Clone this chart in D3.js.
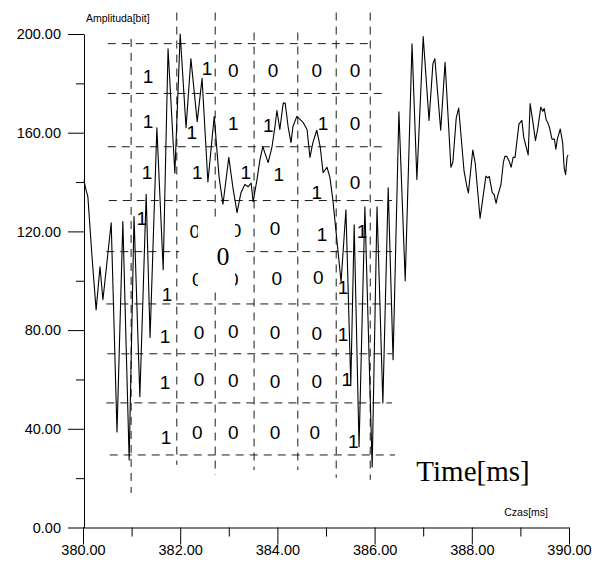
<!DOCTYPE html>
<html>
<head>
<meta charset="utf-8">
<script src="https://cdn.jsdelivr.net/npm/d3@7/dist/d3.min.js"></script>
<style>
  html, body { margin: 0; padding: 0; background: #fff; }
  svg { display: block; font-family: "Liberation Sans", Arial, sans-serif; }
</style>
</head>
<body>
<svg id="chart" width="592" height="570"></svg>
<script>
// Recorded waveform: time [ms] and amplitude [bit]
const timeMs = [
  380.02, 380.06, 380.10, 380.19, 380.27, 380.35, 380.41, 380.58, 380.70, 380.82,
  380.95, 381.05, 381.17, 381.30, 381.38, 381.52, 381.65, 381.75, 381.89, 382.00,
  382.12, 382.22, 382.35, 382.45, 382.57, 382.70, 382.80, 382.88, 383.00, 383.09,
  383.17, 383.25, 383.33, 383.40, 383.46, 383.50, 383.58, 383.64, 383.70, 383.74,
  383.81, 383.89, 383.95, 383.99, 384.05, 384.12, 384.16, 384.22, 384.28, 384.32,
  384.40, 384.47, 384.53, 384.61, 384.67, 384.73, 384.81, 384.88, 384.94, 385.02,
  385.08, 385.14, 385.31, 385.41, 385.51, 385.58, 385.68, 385.80, 385.95, 386.05,
  386.17, 386.28, 386.38, 386.50, 386.63, 386.77, 386.87, 387.00, 387.12, 387.20,
  387.24, 387.36, 387.45, 387.57, 387.61, 387.68, 387.73, 387.84, 387.90, 387.93,
  388.02, 388.07, 388.17, 388.29, 388.33, 388.36, 388.42, 388.46, 388.50, 388.53,
  388.60, 388.65, 388.68, 388.72, 388.77, 388.81, 388.85, 388.89, 388.93, 388.97,
  389.03, 389.07, 389.16, 389.20, 389.25, 389.31, 389.36, 389.42, 389.46, 389.49,
  389.53, 389.57, 389.60, 389.65, 389.70, 389.73, 389.76, 389.82, 389.87, 389.90,
  389.93, 389.96, 389.98
];
const amplitude = [
  140.6, 136.9, 134.1, 108.5, 88.2, 105.7, 92.3, 123.5, 38.7, 124.0,
  27.4, 126.0, 53.0, 135.0, 77.0, 162.0, 104.5, 194.0, 143.6, 200.0,
  162.0, 190.0, 164.5, 182.0, 140.0, 166.6, 142.0, 131.0, 150.0, 137.0,
  127.6, 135.7, 139.0, 138.1, 139.6, 132.0, 141.0, 149.0, 154.4, 151.9,
  147.9, 154.4, 162.5, 169.0, 161.3, 172.0, 172.0, 162.5, 156.0, 162.5,
  166.6, 165.3, 164.1, 161.3, 150.0, 156.0, 161.0, 154.4, 143.8, 146.0,
  142.0, 133.0, 99.6, 128.8, 58.0, 122.7, 32.7, 130.0, 24.5, 130.0,
  50.5, 137.7, 68.0, 168.5, 100.0, 196.0, 141.0, 199.0, 165.0, 188.0,
  190.0, 161.0, 188.5, 146.0, 148.0, 166.0, 170.0, 144.5, 138.0, 135.6,
  153.0, 147.7, 125.3, 142.4, 141.7, 142.3, 135.7, 134.9, 131.4, 134.2,
  139.0, 148.0, 150.4, 150.4, 148.4, 146.0, 150.0, 150.0, 156.8, 163.5,
  165.0, 158.0, 151.0, 171.8, 165.3, 156.8, 162.0, 170.4, 168.7, 169.8,
  165.3, 163.7, 162.0, 157.4, 157.4, 153.3, 157.4, 161.5, 155.9, 145.8,
  143.0, 150.0, 151.0
];

// Axis ticks
const xMajorTicks = [380, 382, 384, 386, 388, 390];
const xMinorTicks = [381, 383, 385, 387, 389];
const yMajorTicks = [0, 40, 80, 120, 160, 200];
const yMinorTicks = [20, 60, 100, 140, 180];

// Bit-cell boundaries (time [ms], amplitude [bit])
const cellColumns = [380.99, 381.93, 382.72, 383.52, 384.42, 385.21, 385.91];
const columnTop    = [198.0, 208.7, 208.7, 200.6, 200.6, 208.7, 208.7];
const columnBottom = [14.0, 25.4, 21.3, 23.3, 23.3, 20.1, 19.3];
const cellRows   = [196.1, 175.9, 154.3, 132.5, 111.8, 90.6, 70.4, 50.5, 29.4];
const rowStart   = [380.51, 380.51, 380.51, 380.53, 380.48, 380.48, 380.50, 380.48, 380.55];
const rowEnd     = [385.97, 386.17, 386.17, 386.36, 386.36, 386.36, 386.36, 386.36, 386.42];

// Decoded bits written into the cells: [time, amplitude, bit]
const bitLabels = [
  [381.34, 182.8, "1"], [382.55, 186.0, "1"], [383.09, 185.2, "0"], [383.91, 185.2, "0"], [384.81, 185.2, "0"], [385.60, 185.2, "0"],
  [381.34, 164.5, "1"], [382.24, 160.0, "1"], [383.09, 163.7, "1"], [383.81, 162.9, "1"], [384.94, 163.7, "1"], [385.60, 163.7, "0"],
  [381.32, 143.8, "1"], [382.35, 143.8, "1"], [383.35, 143.8, "1"], [384.03, 143.0, "1"], [384.81, 135.7, "1"], [385.60, 139.8, "0"],
  [381.21, 125.2, "1"], [382.30, 119.9, "0"], [383.15, 120.3, "0"], [383.95, 121.1, "0"], [384.92, 118.7, "1"], [385.74, 119.9, "1"],
  [381.73, 94.3, "1"],  [382.35, 100.4, "0"], [383.09, 100.4, "0"], [383.99, 100.8, "0"], [384.84, 101.2, "0"], [385.35, 97.2, "1"],
  [381.69, 77.3, "1"],  [382.39, 78.9, "0"],  [383.09, 79.3, "0"],  [383.95, 78.9, "0"],  [384.81, 78.5, "0"],  [385.35, 78.1, "1"],
  [381.69, 58.6, "1"],  [382.39, 59.8, "0"],  [383.09, 59.4, "0"],  [383.95, 59.0, "0"],  [384.81, 59.0, "0"],  [385.43, 59.8, "1"],
  [381.71, 36.3, "1"],  [382.35, 38.3, "0"],  [383.09, 38.3, "0"],  [383.95, 38.3, "0"],  [384.77, 38.7, "0"],  [385.56, 34.7, "1"]
];
const centreBit = [382.88, 109.7, "0"];

const svg = d3.select("#chart");

const x = d3.scaleLinear().domain([380, 390]).range([83, 569]);
const y = d3.scaleLinear().domain([0, 200]).range([527.5, 34]);

// Axes
const fmt = d3.format(".2f");
const styleAxis = g => {
  g.select(".domain").attr("stroke", "#000").attr("stroke-width", 1);
  g.selectAll(".tick line").attr("stroke", "#000").attr("stroke-width", 1);
  g.selectAll(".tick text").attr("fill", "#000").style("font-size", "14.5px")
    .style("font-family", '"Liberation Sans", Arial, sans-serif');
};

svg.append("g").attr("transform", `translate(0,${y(0)})`)
  .call(d3.axisBottom(x).tickValues(xMajorTicks).tickSize(17).tickPadding(0).tickFormat(fmt).tickSizeOuter(0))
  .call(styleAxis);
svg.append("g").attr("transform", `translate(0,${y(0)})`)
  .call(d3.axisBottom(x).tickValues(xMinorTicks).tickSize(9).tickFormat("").tickSizeOuter(0))
  .call(g => g.select(".domain").remove())
  .call(styleAxis);

svg.append("g").attr("transform", `translate(${x(380) + 1},0)`)
  .call(d3.axisLeft(y).tickValues(yMajorTicks).tickSize(16).tickPadding(7).tickFormat(fmt).tickSizeOuter(0))
  .call(styleAxis);
svg.append("g").attr("transform", `translate(${x(380) + 1},0)`)
  .call(d3.axisLeft(y).tickValues(yMinorTicks).tickSize(8).tickFormat("").tickSizeOuter(0))
  .call(g => g.select(".domain").remove())
  .call(styleAxis);

// Bit-cell grid
const grid = svg.append("g")
  .attr("stroke", "#1a1a1a").attr("stroke-width", 1).attr("stroke-dasharray", "8,6").attr("fill", "none");
grid.selectAll("line.col").data(cellColumns).join("line").attr("class", "col")
  .attr("x1", d => x(d)).attr("x2", d => x(d))
  .attr("y1", (d, i) => y(columnTop[i])).attr("y2", (d, i) => y(columnBottom[i]));
grid.selectAll("line.row").data(cellRows).join("line").attr("class", "row")
  .attr("y1", d => y(d)).attr("y2", d => y(d))
  .attr("x1", (d, i) => x(rowStart[i])).attr("x2", (d, i) => x(rowEnd[i]));

// Waveform
const line = d3.line().x((d, i) => x(timeMs[i])).y((d, i) => y(amplitude[i]));
svg.append("path").datum(amplitude)
  .attr("d", line).attr("fill", "none").attr("stroke", "#000").attr("stroke-width", 1.1)
  .attr("stroke-linejoin", "round");

// Bit labels
svg.append("g").selectAll("text").data(bitLabels).join("text")
  .attr("x", d => x(d[0])).attr("y", d => y(d[1]))
  .attr("text-anchor", "middle").attr("dominant-baseline", "central")
  .style("font-size", "19px").attr("fill", "#000")
  .text(d => d[2]);

// Centre bit in its white text box
const cx = x(centreBit[0]), cy = y(centreBit[1]);
svg.append("rect").attr("x", cx - 25).attr("y", cy - 38).attr("width", 37).attr("height", 72).attr("fill", "#fff");
svg.append("rect").attr("x", cx - 44).attr("y", cy - 12).attr("width", 64).attr("height", 18).attr("fill", "#fff");
svg.append("text").attr("x", cx).attr("y", cy)
  .attr("text-anchor", "middle").attr("dominant-baseline", "central")
  .style("font-family", '"Liberation Serif", "Times New Roman", serif').style("font-size", "26px")
  .text(centreBit[2]);

// Axis titles
svg.append("text").attr("x", 86).attr("y", 22)
  .style("font-size", "10.5px").text("Amplituda[bit]");
svg.append("text").attr("x", 548).attr("y", 516).attr("text-anchor", "end")
  .style("font-size", "10.5px").text("Czas[ms]");
svg.append("text").attr("x", 473).attr("y", 481).attr("text-anchor", "middle")
  .style("font-family", '"Liberation Serif", "Times New Roman", serif').style("font-size", "29px")
  .text("Time[ms]");
</script>
</body>
</html>
